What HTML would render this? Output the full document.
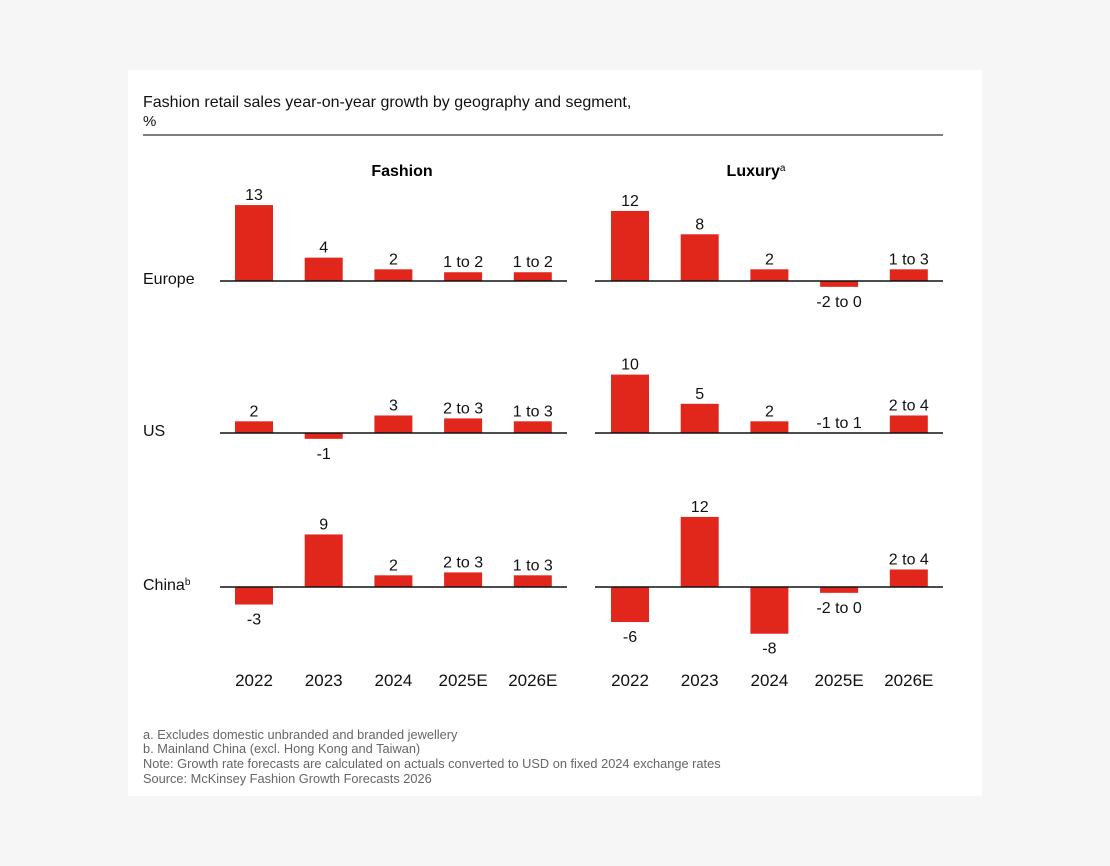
<!DOCTYPE html>
<html><head><meta charset="utf-8"><style>
body{margin:0;background:#f6f6f6;width:1110px;height:866px;overflow:hidden;font-family:"Liberation Sans",sans-serif}
svg{position:absolute;left:0;top:0}
</style></head><body>
<svg id="chart" width="1110" height="866">
<rect x="128" y="70" width="854" height="726" fill="#fff"/>
<text x="143" y="107" font-size="16" fill="#111">Fashion retail sales year-on-year growth by geography and segment,</text>
<text x="143" y="126" font-size="15" fill="#111">%</text>
<line x1="143" y1="135" x2="943" y2="135" stroke="#333" stroke-width="1.2"/>
<text x="402" y="176" font-size="16" font-weight="bold" text-anchor="middle">Fashion</text>
<text x="756" y="176" font-size="16" font-weight="bold" text-anchor="middle">Luxury<tspan font-size="10" dy="-5" font-weight="normal">a</tspan></text>
<g font-size="12.8" fill="#666">
<text x="143" y="739">a. Excludes domestic unbranded and branded jewellery</text>
<text x="143" y="753">b. Mainland China (excl. Hong Kong and Taiwan)</text>
<text x="143" y="768">Note: Growth rate forecasts are calculated on actuals converted to USD on fixed 2024 exchange rates</text>
<text x="143" y="783">Source: McKinsey Fashion Growth Forecasts 2026</text>
</g>
</svg>
<script>
const years=["2022","2023","2024","2025E","2026E"];
const regions=["Europe","US","China"];
const fashionValues=[[13,4,2,1.5,1.5],[2,-1,3,2.5,2],[-3,9,2,2.5,2]];
const fashionLabels=[["13","4","2","1 to 2","1 to 2"],["2","-1","3","2 to 3","1 to 3"],["-3","9","2","2 to 3","1 to 3"]];
const luxuryValues=[[12,8,2,-1,2],[10,5,2,0,3],[-6,12,-8,-1,3]];
const luxuryLabels=[["12","8","2","-2 to 0","1 to 3"],["10","5","2","-1 to 1","2 to 4"],["-6","12","-8","-2 to 0","2 to 4"]];
const svg=document.getElementById('chart');
const NS="http://www.w3.org/2000/svg";
const baselines=[281,433,587];
const scale=5.84;
const panels=[{x0:220,x1:567,first:254,vals:fashionValues,labs:fashionLabels,name:'fashion'},{x0:595,x1:943,first:630,vals:luxuryValues,labs:luxuryLabels,name:'luxury'}];
const step=69.7, bw=38;
function mk(tag,attrs){const e=document.createElementNS(NS,tag);for(const k in attrs)e.setAttribute(k,attrs[k]);svg.appendChild(e);return e;}
regions.forEach((r,ri)=>{
  const t=mk('text',{x:143,y:baselines[ri]+3,'font-size':16,fill:'#111'});
  t.textContent=r;
  if(r==="China"){const s=document.createElementNS(NS,'tspan');s.setAttribute('font-size','10');s.setAttribute('dy','-5');s.textContent='b';t.appendChild(s);}
  
  
});
panels.forEach(p=>{
  regions.forEach((r,ri)=>{
    const y0=baselines[ri];
    p.vals[ri].forEach((v,i)=>{
      const cx=p.first+i*step;
      const h=Math.abs(v)*scale;
      const b=mk('rect',{x:cx-bw/2,y:v>=0?y0-h:y0,width:bw,height:h,fill:'#e1261c'});
      
      
      const ly=v>=0?y0-h-5:y0+h+20;
      const t=mk('text',{x:cx,y:ly,'font-size':16,'text-anchor':'middle',fill:'#111'});
      t.textContent=p.labs[ri][i];
      
      
    });
    const l=mk('line',{x1:p.x0,x2:p.x1,y1:y0,y2:y0,stroke:'#111','stroke-width':1.5});
    
    
  });
  years.forEach((yr,i)=>{
    const t=mk('text',{x:p.first+i*step,y:686,'font-size':17,'text-anchor':'middle',fill:'#111'});
    t.textContent=yr;
    
    
  });
});
</script>
</body></html>
